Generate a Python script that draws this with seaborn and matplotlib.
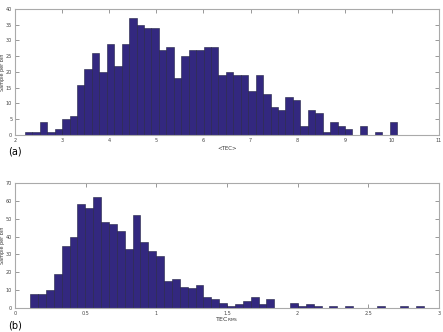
import numpy as np
import pandas as pd
import matplotlib
matplotlib.use("Agg")
import matplotlib.pyplot as plt
import seaborn as sns

# Panel (a): <TEC>
tec_start = 2.21
tec_width = 0.158
tec_counts = [1, 1, 4, 1, 2, 5, 6, 16, 21, 26,
              20, 29, 22, 29, 37, 35, 34, 34, 27, 28,
              18, 25, 27, 27, 28, 28, 19, 20, 19, 19,
              14, 19, 13, 9, 8, 12, 11, 3, 8, 7,
              1, 4, 3, 2, 0, 3, 0, 1, 0, 4]
tec_xticks = [2, 3, 4, 5, 6, 7, 8, 9, 10, 11]
tec_yticks = [0, 5, 10, 15, 20, 25, 30, 35, 40]

# Panel (b): TEC_RMS
rms_start = 0.108
rms_width = 0.0557
rms_counts = [8, 8, 10, 19, 35, 40, 58, 56, 62, 48,
              47, 43, 33, 52, 37, 32, 29, 15, 16, 12,
              11, 13, 6, 5, 3, 1, 2, 4, 6, 2,
              5, 0, 0, 3, 1, 2, 1, 0, 1, 0,
              1, 0, 0, 0, 1, 0, 0, 1, 0, 1]
rms_xticks = [0, 0.5, 1, 1.5, 2, 2.5, 3]
rms_xticklabels = ["0", "0.5", "1", "1.5", "2", "2.5", "3"]
rms_yticks = [0, 10, 20, 30, 40, 50, 60, 70]

sns.set_style("white")
plt.rcParams["font.family"] = ["DejaVu Sans"]

fig = plt.figure(figsize=(4.43, 3.32), dpi=100)
ax1 = fig.add_axes([15/443, 1-135/332, (439-15)/443, (135-9)/332])
ax2 = fig.add_axes([15/443, 1-308/332, (439-15)/443, (308-183)/332])

bar_color = "#33287f"
edge_color = "#222244"

def draw(ax, start, width, counts):
    n = len(counts)
    edges = [float(start + width * i) for i in range(n + 1)]
    centers = [(edges[i] + edges[i + 1]) / 2 for i in range(n)]
    df = pd.DataFrame({"x": centers, "w": counts})
    sns.histplot(data=df, x="x", weights="w", bins=edges, ax=ax,
                 color=bar_color, edgecolor=edge_color, linewidth=0.4,
                 alpha=1.0)

draw(ax1, tec_start, tec_width, tec_counts)
draw(ax2, rms_start, rms_width, rms_counts)

ax1.set_xlim(2, 11)
ax1.set_ylim(0, 40)
ax1.set_xticks(tec_xticks)
ax1.set_yticks(tec_yticks)
ax2.set_xlim(0, 3)
ax2.set_ylim(0, 70)
ax2.set_xticks(rms_xticks)
ax2.set_xticklabels(rms_xticklabels)
ax2.set_yticks(rms_yticks)

for ax in (ax1, ax2):
    ax.set_xlabel("")
    ax.set_ylabel("Sample per bin", fontsize=3.5, color="#333333")
    ax.yaxis.set_label_coords(-10/424, 0.5)
    for s in ax.spines.values():
        s.set_color("#aaaaaa")
        s.set_linewidth(0.8)
    ax.tick_params(direction="in", length=3, width=0.6, color="#888888",
                   labelsize=3.5, labelcolor="#444444", top=True, right=True,
                   bottom=True, left=True, pad=2)

fig.text(227/443, 1-148/332, "<TEC>", fontsize=4, color="#333333", ha="center", va="center")
fig.text(227/443, 1-320/332, r"TEC$_{\mathrm{RMS}}$", fontsize=4.5, color="#333333", ha="center", va="center")
fig.text(8/443, 1-152/332, "(a)", fontsize=7, ha="left", va="center", color="black")
fig.text(8/443, 1-325/332, "(b)", fontsize=7, ha="left", va="center", color="black")

fig.savefig("out.png", dpi=100)
